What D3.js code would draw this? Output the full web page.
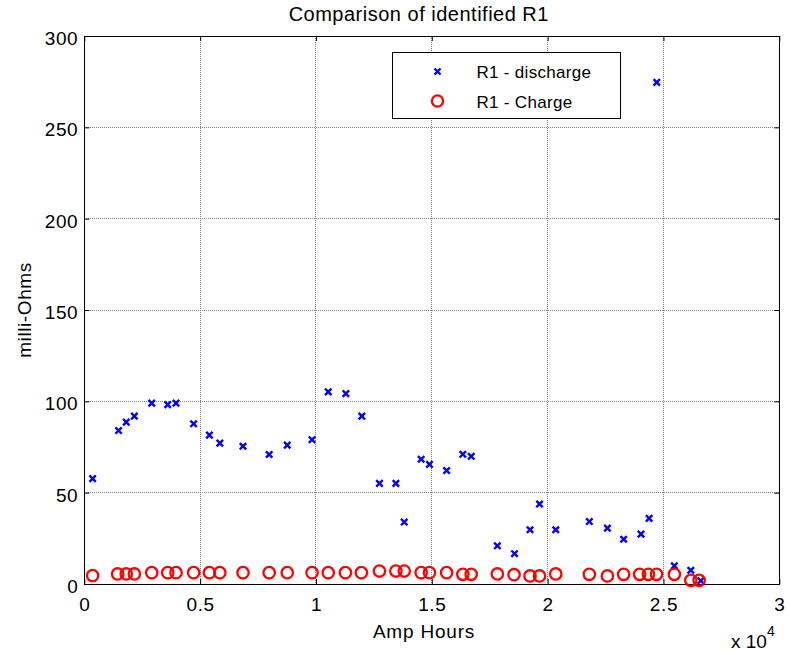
<!DOCTYPE html>
<html>
<head>
<meta charset="utf-8">
<script src="https://cdn.jsdelivr.net/npm/d3@7"></script>
<style>
  html, body { margin: 0; padding: 0; background: #fff; }
  svg text { font-family: "Liberation Sans", Arial, sans-serif; fill: #000; }
</style>
</head>
<body>
<svg id="chart" width="789" height="655"></svg>
<script>
// Identified R1 (milli-Ohms) against cumulative Amp Hours
const dischargeAh = [360, 1480, 1810, 2160, 2910, 3600, 3960, 4720, 5400, 5850,
  6850, 7980, 8760, 9830, 10530, 11290, 11980, 12740, 13450, 13810,
  14540, 14900, 15640, 16340, 16700, 17830, 18570, 19240, 19650, 20350,
  21800, 22580, 23280, 24030, 24380, 24710, 25470, 26180, 26610];
const dischargeR1 = [57.7, 84, 88.6, 91.9, 99, 98.2, 99, 87.7, 81.5, 77.1,
  75.4, 70.9, 76, 79, 105.2, 104.2, 91.9, 55.1, 55.1, 33.9,
  68.3, 65.5, 62.1, 71, 69.9, 20.9, 16.6, 29.7, 43.8, 29.7,
  34.2, 30.6, 24.5, 27.3, 35.9, 274.6, 9.9, 7.5, 1.8];

const chargeAh = [360, 1440, 1810, 2160, 2910, 3600, 3960, 4720, 5400, 5850,
  6850, 7980, 8760, 9830, 10530, 11270, 11960, 12740, 13450, 13810,
  14540, 14900, 15640, 16340, 16700, 17830, 18550, 19240, 19650, 20350,
  21800, 22580, 23280, 23970, 24350, 24700, 25470, 26180, 26540];
const chargeR1 = [4.6, 5.5, 5.5, 5.5, 6.2, 6.2, 6.2, 6.2, 6.2, 6.2,
  6.2, 6.2, 6.2, 6.2, 6.2, 6.2, 6.2, 7.1, 7.1, 7.1,
  6.2, 6.2, 6.2, 5.3, 5.3, 5.5, 5.1, 4.4, 4.4, 5.5,
  5.3, 4.4, 5.3, 5.3, 5.3, 5.3, 5.3, 2.0, 2.0];

const xTicks = [0, 5000, 10000, 15000, 20000, 25000, 30000];
const yTicks = [0, 50, 100, 150, 200, 250, 300];
const seriesNames = ["R1 - discharge", "R1 - Charge"];

(function draw() {
  const svg = d3.select("#chart");
  const pLeft = 84.3, pRight = 779.3, pTop = 36, pBottom = 584;
  const W = pRight - pLeft, H = pBottom - pTop;

  const x = d3.scaleLinear().domain([0, 30000]).range([pLeft, pRight]);
  const y = d3.scaleLinear().domain([0, 300]).range([pBottom, pTop]);

  const fmtX = d => String(d / 1e4);
  const fs = 19;

  // dotted grid
  const grid = svg.append("g");
  grid.selectAll("line.gx").data(xTicks).join("line")
    .attr("x1", d => x(d)).attr("x2", d => x(d))
    .attr("y1", pTop).attr("y2", pBottom)
    .attr("stroke", "#808080").attr("stroke-width", 1)
    .attr("stroke-dasharray", "1,1").attr("shape-rendering", "crispEdges");
  grid.selectAll("line.gy").data(yTicks).join("line")
    .attr("x1", pLeft).attr("x2", pRight)
    .attr("y1", d => y(d)).attr("y2", d => y(d))
    .attr("stroke", "#808080").attr("stroke-width", 1)
    .attr("stroke-dasharray", "1,1").attr("shape-rendering", "crispEdges");

  // axes with inward ticks on all four sides
  const tickLen = 5;
  const axB = svg.append("g").attr("transform", `translate(0,${pBottom})`)
    .call(d3.axisBottom(x).tickValues(xTicks).tickFormat(fmtX).tickSizeInner(-tickLen).tickSizeOuter(0).tickPadding(14));
  const axT = svg.append("g").attr("transform", `translate(0,${pTop})`)
    .call(d3.axisTop(x).tickValues(xTicks).tickFormat("").tickSizeInner(-tickLen).tickSizeOuter(0));
  const axL = svg.append("g").attr("transform", `translate(${pLeft},0)`)
    .call(d3.axisLeft(y).tickValues(yTicks).tickSizeInner(-tickLen).tickSizeOuter(0).tickPadding(6));
  const axR = svg.append("g").attr("transform", `translate(${pRight},0)`)
    .call(d3.axisRight(y).tickValues(yTicks).tickFormat("").tickSizeInner(-tickLen).tickSizeOuter(0));

  [axB, axT, axL, axR].forEach(a => {
    a.select(".domain").remove();
    a.selectAll(".tick line").attr("stroke", "#000").attr("stroke-width", 1);
    a.selectAll("text").attr("font-size", fs).attr("letter-spacing", "0.6px")
      .attr("font-family", "Liberation Sans, Arial, sans-serif").attr("fill", "#000");
  });
  axB.selectAll("text").attr("dy", "0.71em");
  axL.selectAll("text").attr("dy", "0.45em");

  // box
  svg.append("rect").attr("x", pLeft).attr("y", pTop).attr("width", W).attr("height", H)
    .attr("fill", "none").attr("stroke", "#000").attr("stroke-width", 1)
    .attr("shape-rendering", "crispEdges");

  // markers
  const blue = "#0000ff", red = "#ff0000";
  const xMark = (g, cx, cy, s) => {
    g.append("path")
      .attr("d", `M${cx - s},${cy - s}L${cx + s},${cy + s}M${cx - s},${cy + s}L${cx + s},${cy - s}`)
      .attr("stroke", blue).attr("stroke-width", 2.4).attr("fill", "none");
  };

  const chargeData = chargeAh.map((a, i) => ({ a, r: chargeR1[i] }));
  const dischargeData = dischargeAh.map((a, i) => ({ a, r: dischargeR1[i] }));

  const dis = svg.append("g");
  dischargeData.forEach(d => xMark(dis, x(d.a), y(d.r), 3.2));

  svg.append("g").selectAll("circle").data(chargeData).join("circle")
    .attr("cx", d => x(d.a)).attr("cy", d => y(d.r)).attr("r", 5.7)
    .attr("fill", "none").attr("stroke", red).attr("stroke-width", 2.3);

  // legend
  const lg = svg.append("g");
  lg.append("rect").attr("x", 392.5).attr("y", 52.5).attr("width", 228).attr("height", 66)
    .attr("fill", "#fff").attr("stroke", "#000").attr("stroke-width", 1);
  xMark(lg, 437.5, 71.5, 3);
  lg.append("circle").attr("cx", 437.5).attr("cy", 101).attr("r", 5.6)
    .attr("fill", "none").attr("stroke", red).attr("stroke-width", 2.3);
  lg.selectAll("text").data(seriesNames).join("text")
    .attr("x", 476.5).attr("y", (d, i) => 72 + i * 29.5).attr("dy", "0.36em")
    .attr("font-size", 17).attr("letter-spacing", "0.3px").text(d => d);

  // titles
  svg.append("text").attr("x", (pLeft + pRight) / 2 - 13).attr("y", 21)
    .attr("text-anchor", "middle").attr("font-size", 20).attr("letter-spacing", "0.5px")
    .text("Comparison of identified R1");
  svg.append("text").attr("x", 424).attr("y", 638)
    .attr("text-anchor", "middle").attr("font-size", fs).attr("letter-spacing", "0.8px")
    .text("Amp Hours");
  svg.append("text").attr("transform", `translate(31,310) rotate(-90)`)
    .attr("text-anchor", "middle").attr("font-size", fs).attr("letter-spacing", "0.6px")
    .text("milli-Ohms");

  // exponent label for the x axis
  const ex = svg.append("text").attr("x", 731).attr("y", 648).attr("font-size", fs);
  ex.append("tspan").text("x 10");
  ex.append("tspan").attr("dy", -12).attr("font-size", 14).text("4");
})();
</script>
</body>
</html>
